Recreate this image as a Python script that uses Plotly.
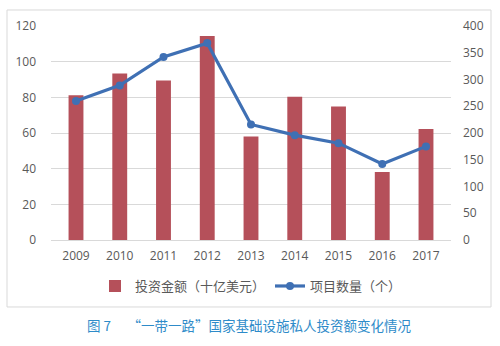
import plotly.graph_objects as go

years = ["2009", "2010", "2011", "2012", "2013", "2014", "2015", "2016", "2017"]
invest = [81.2, 93.4, 89.4, 114.4, 58.1, 80.3, 74.8, 38.1, 62.3]
projects = [260, 289, 342, 368, 216, 196, 181, 142, 175]
bar_name = "投资金额（十亿美元）"
line_name = "项目数量（个）"
caption = "图 7　 “一带一路”国家基础设施私人投资额变化情况"

font_cjk = "Noto Sans CJK SC"
tick_font = dict(family="Open Sans, Liberation Sans", size=12, color="#595959")

fig = go.Figure()
fig.add_trace(go.Bar(x=years, y=invest, name=bar_name, marker=dict(color="#B5505A", line=dict(width=0)),
                     width=0.34, yaxis="y"))
fig.add_trace(go.Scatter(x=years, y=projects, name=line_name, mode="lines+markers",
                         line=dict(color="#3F70B4", width=3.2), marker=dict(size=8, color="#3F70B4"),
                         yaxis="y2"))

fig.update_layout(
    width=500, height=346,
    margin=dict(l=51, r=49, t=26, b=106),
    paper_bgcolor="white", plot_bgcolor="white",
    showlegend=True,
    legend=dict(orientation="h", x=0.5, xanchor="center", y=-0.145, yanchor="top",
                font=dict(family=font_cjk, size=13, color="#595959"), itemwidth=30,
                traceorder="normal"),
    xaxis=dict(type="category", tickfont=tick_font, showgrid=False, showline=True,
               linecolor="#D9D9D9", ticks="", ticklabelstandoff=5),
    yaxis=dict(range=[0, 120], dtick=20, tickfont=tick_font, gridcolor="#D9D9D9", gridwidth=1,
               zeroline=False, showline=False, ticks="", ticklabelstandoff=14),
    yaxis2=dict(range=[0, 400], dtick=50, overlaying="y", side="right", tickfont=tick_font,
                showgrid=False, zeroline=False, showline=False, ticks="", ticklabelstandoff=11),
    shapes=[dict(type="rect", xref="paper", yref="paper", x0=-0.11, x1=1.1, y0=-0.313, y1=1.0748,
                 line=dict(color="#D9D9D9", width=1), fillcolor="rgba(0,0,0,0)", layer="below")],
    annotations=[dict(text=caption, xref="paper", yref="paper", x=(249 - 51) / 400, xanchor="center",
                      y=-(325 - 240) / 214, yanchor="middle", showarrow=False,
                      font=dict(family=font_cjk, size=13.5, color="#2E8BC9"))],
)

fig.write_html("out.html")
